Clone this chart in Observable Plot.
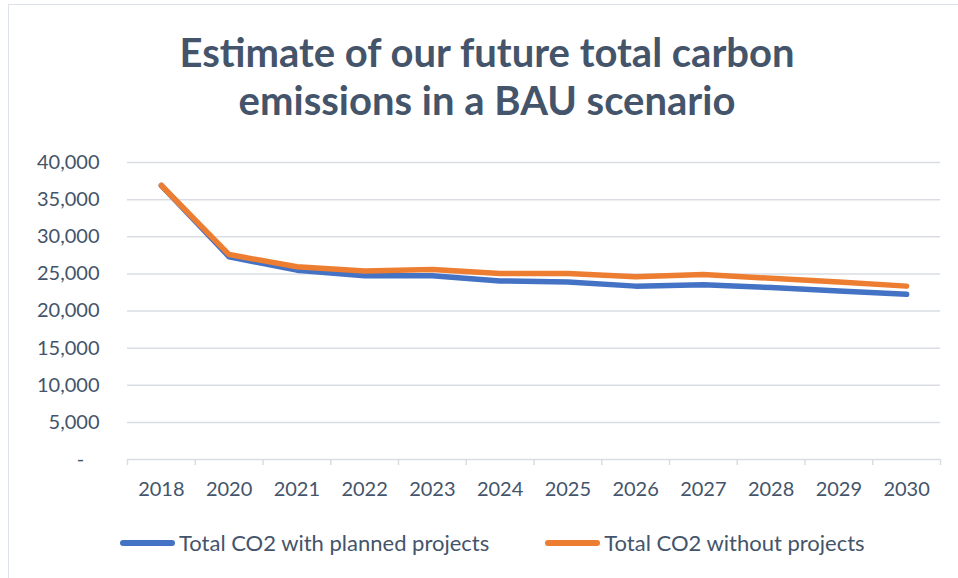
<!DOCTYPE html>
<html>
<head>
<meta charset="utf-8">
<script src="https://cdn.jsdelivr.net/npm/d3@7"></script>
<script src="https://cdn.jsdelivr.net/npm/@observablehq/plot@0.6"></script>
<style>
  html, body { margin: 0; padding: 0; background: #fff; width: 958px; height: 578px; overflow: hidden; }
  body { position: relative; font-family: Lato, "Open Sans", sans-serif; color: #44546A; }
  #frame { position: absolute; left: 8px; top: 4px; width: 1000px; height: 700px; border: 1.5px solid #dde2ea; box-sizing: border-box; }
  #title { position: absolute; left: 9px; width: 956px; top: 28px; text-align: center; font-weight: 700; font-size: 40px; line-height: 48px; color: #44546A; }
  #chart { position: absolute; left: 0; top: 140px; }
  #legend { position: absolute; left: 120px; top: 528px; display: flex; align-items: center; font-size: 22px; line-height: 30px; }
  .item { display: flex; align-items: center; margin-right: 56px; }
  .sw { width: 55px; height: 5.5px; border-radius: 3px; margin-right: 4px; }
</style>
</head>
<body>
<div id="frame"></div>
<div id="title">Estimate of our future total carbon<br>emissions in a BAU scenario</div>
<div id="chart"></div>
<div id="legend"></div>
<script>
const years = ["2018","2020","2021","2022","2023","2024","2025","2026","2027","2028","2029","2030"];
const withProjects    = [36900, 27300, 25500, 24750, 24750, 24050, 23900, 23350, 23550, 23150, 22700, 22250];
const withoutProjects = [36900, 27600, 25950, 25400, 25600, 25050, 25050, 24600, 24900, 24400, 23900, 23350];
const seriesNames = ["Total CO2 with planned projects", "Total CO2 without projects"];
const seriesColors = ["#4472C4", "#ED7D31"];
const yTicks = [0, 5000, 10000, 15000, 20000, 25000, 30000, 35000, 40000];

const data = years.flatMap((year, i) => [
  {i, year, value: withProjects[i], series: seriesNames[0]},
  {i, year, value: withoutProjects[i], series: seriesNames[1]}
]);

const fmt = d3.format(",");
const chart = Plot.plot({
  width: 958,
  height: 375,
  marginTop: 22,
  marginBottom: 56,
  marginLeft: 127,
  marginRight: 18,
  style: {fontFamily: "Lato, 'Open Sans', sans-serif", fontSize: "20px", color: "#44546A", background: "transparent", overflow: "visible"},
  x: {domain: [-0.5, years.length - 0.5]},
  y: {domain: [0, 40000]},
  color: {domain: seriesNames, range: seriesColors},
  marks: [
    Plot.ruleY(yTicks, {stroke: "#d9dde3", strokeWidth: 1.5}),
    Plot.axisY({ticks: yTicks, tickSize: 0, tickPadding: 28, tickFormat: d => d === 0 ? "-\u00a0\u00a0\u00a0" : fmt(d), label: null}),
    Plot.axisX({ticks: d3.range(-0.5, years.length, 1), tickSize: 6, stroke: "#d9dde3", strokeWidth: 1.5, tickFormat: () => "", label: null}),
    Plot.axisX({ticks: d3.range(years.length), tickSize: 0, tickPadding: 22, tickFormat: i => years[i], label: null}),
    Plot.line(data, {x: "i", y: "value", z: "series", stroke: "series", strokeWidth: 5.5, strokeLinecap: "round", strokeLinejoin: "round"})
  ]
});
document.getElementById("chart").appendChild(chart);

const legend = d3.select("#legend");
seriesNames.forEach((name, k) => {
  const it = legend.append("div").attr("class", "item");
  it.append("div").attr("class", "sw").style("background", seriesColors[k]);
  it.append("span").text(name);
});
</script>
</body>
</html>
